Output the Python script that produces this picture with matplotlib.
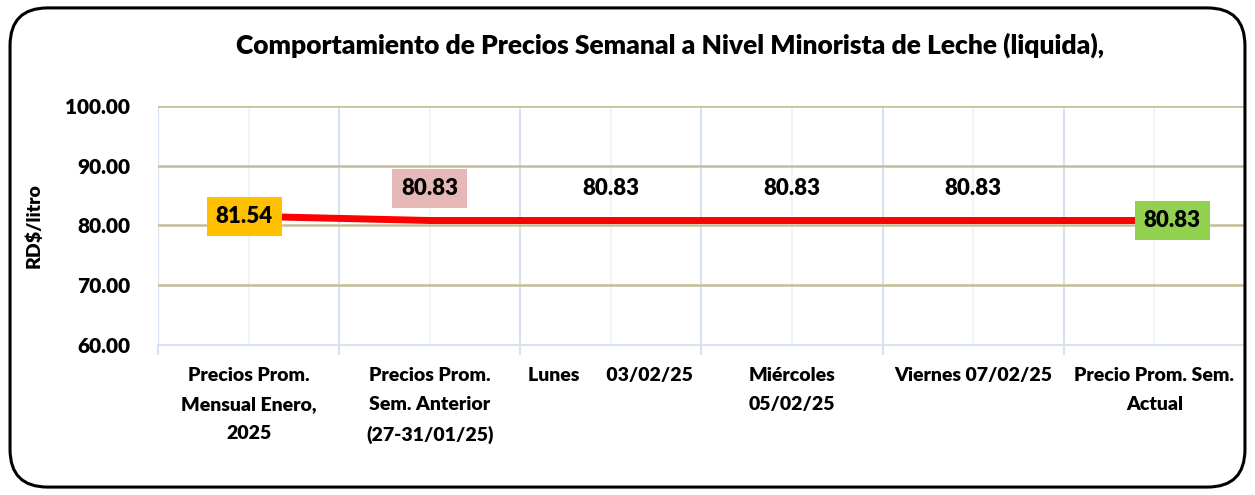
import numpy as np
import matplotlib
matplotlib.use("Agg")
import matplotlib.pyplot as plt
from matplotlib.patches import FancyBboxPatch
from matplotlib.ticker import FormatStrFormatter

plt.rcParams['font.family'] = ['Lato', 'DejaVu Sans']
plt.rcParams['font.weight'] = 'heavy'

# datos
categorias = [
    "Precios Prom.\nMensual Enero,\n2025",
    "Precios Prom.\nSem. Anterior\n(27-31/01/25)",
    "Lunes      03/02/25",
    "Miércoles\n05/02/25",
    "Viernes 07/02/25",
    "Precio Prom. Sem.\nActual",
]
precios = [81.54, 80.83, 80.83, 80.83, 80.83, 80.83]
etiquetas = ["81.54", "80.83", "80.83", "80.83", "80.83", "80.83"]
y_ticks = [60, 70, 80, 90, 100]

titulo = "Comportamiento de Precios Semanal a Nivel Minorista de Leche (liquida),"

fig = plt.figure(figsize=(12.55, 4.95), dpi=100)
ax = fig.add_axes([0.1259, 0.303, 0.866, 0.483])

x = np.arange(len(precios))
ax.plot(x, precios, color='#FF0000', lw=5, solid_capstyle='round', zorder=3)

ax.set_xlim(-0.5, len(precios) - 0.5)
ax.set_ylim(min(y_ticks), max(y_ticks))
ax.set_yticks(y_ticks)
ax.yaxis.set_major_formatter(FormatStrFormatter('%.2f'))

# ticks en los bordes de categoria, etiquetas en el centro
ax.set_xticks(np.arange(-0.5, len(precios)), labels=[])
ax.set_xticks(x, labels=categorias, minor=True)
ax.tick_params(axis='x', which='major', length=7, color='#D6E2F0', width=1.5)
ax.tick_params(axis='x', which='minor', length=0, pad=16, labelsize=14)
for lbl in ax.get_xticklabels(minor=True):
    lbl.set_linespacing(1.85)
    lbl.set_fontweight('heavy')
ax.tick_params(axis='y', length=0, pad=20, labelsize=15)
for lbl in ax.get_yticklabels():
    lbl.set_fontweight('heavy')

ax.grid(axis='y', color='#C4BD97', lw=1.8, zorder=1)
ax.grid(axis='x', which='major', color='#D6E2F0', lw=1.5, zorder=0)
ax.grid(axis='x', which='minor', color='#EEF2F8', lw=1.2, zorder=0)

for s in ['top', 'right', 'left']:
    ax.spines[s].set_visible(False)
ax.spines['bottom'].set_color('#D6E2F0')
ax.spines['bottom'].set_linewidth(1.5)

ax.set_ylabel("RD$/litro", fontsize=14, fontweight='heavy', labelpad=0)
ax.yaxis.set_label_coords(-0.106, 0.5)

# etiquetas de datos
estilos = [
    dict(offset=(-3, 0), fc='#FFC000'),
    dict(offset=(0, 23), fc='#E6B9B8'),
    dict(offset=(0, 23), fc=None),
    dict(offset=(0, 23), fc=None),
    dict(offset=(0, 23), fc=None),
    dict(offset=(13, 0), fc='#92D050'),
]
for xi, yi, txt, st in zip(x, precios, etiquetas, estilos):
    bbox = None
    if st['fc']:
        bbox = dict(boxstyle='square,pad=0.4', fc=st['fc'], ec='none')
    ax.annotate(txt, (xi, yi), xytext=st['offset'], textcoords='offset points',
                ha='center', va='center', fontsize=16, fontweight='heavy',
                bbox=bbox, zorder=5)

fig.text(0.534, 0.909, titulo, ha='center', va='center', fontsize=19, fontweight='heavy')

marco = FancyBboxPatch((0.008, 0.016), 0.984, 0.968,
                       boxstyle='round,pad=0,rounding_size=0.03',
                       transform=fig.transFigure, fc='none', ec='black', lw=2.2,
                       mutation_aspect=1255 / 495)
fig.patches.append(marco)

fig.savefig("out.png", dpi=100)
